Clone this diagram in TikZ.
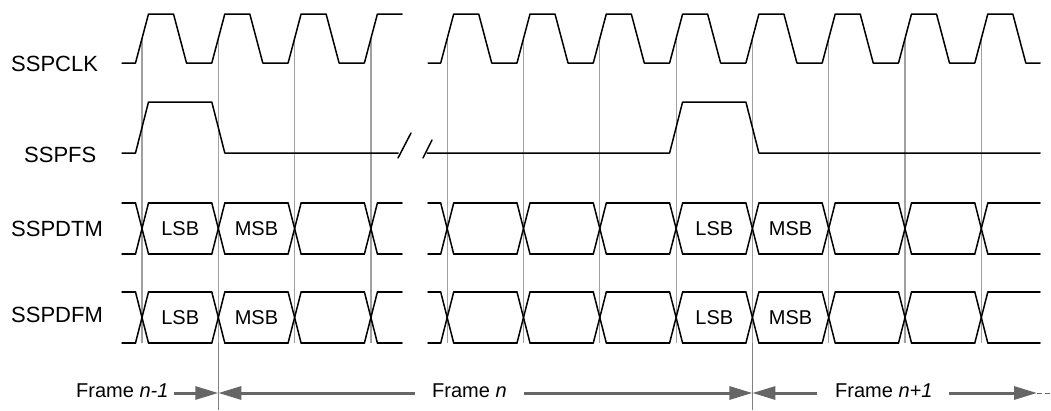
\documentclass[tikz,border=0pt]{standalone}
\usepackage{fontspec}
\setmainfont{Liberation Sans}
\usetikzlibrary{arrows.meta}
\definecolor{gridgray}{RGB}{160,160,160}
\definecolor{edgegray}{RGB}{128,128,128}
\definecolor{framegray}{RGB}{102,102,102}

\begin{document}
\begin{tikzpicture}[x=1pt,y=-1pt,
  wave/.style={black,line width=1.5pt,line cap=round,line join=round},
  grid/.style={gridgray,line width=1.2pt},
  siglabel/.style={anchor=west,inner sep=0pt,font=\fontsize{22}{26}\selectfont},
  bitlabel/.style={inner sep=0pt,font=\fontsize{20}{24}\selectfont},
  framelabel/.style={anchor=west,inner sep=0pt,font=\fontsize{20}{24}\selectfont},
  framearrow/.style={framegray,line width=3pt,-{Triangle[length=23pt,width=13pt]}}]
\useasboundingbox (0,0) rectangle (1051,410);

\foreach \k in {0,...,11}
  \draw[grid] ({142+76.3*\k},38.5) -- ({142+76.3*\k},343);
\draw[edgegray,line width=1.2pt] (218.3,343) -- (218.3,410);
\draw[edgegray,line width=1.2pt] (752.4,343) -- (752.4,410);

\node[siglabel] (clk) at (11,64) {SSPCLK};
\node[siglabel] (fs) at (24,155) {SSPFS};
\node[siglabel] (dtm) at (11,229) {SSPDTM};
\node[siglabel] (dfm) at (11,315) {SSPDFM};

\draw[wave] (122,63) \foreach \k in {0,1,2} {
  -- ({142+76.3*\k-6.5},63) -- ({142+76.3*\k+6.5},14)
  -- ({142+76.3*\k+31.5},14) -- ({142+76.3*\k+44.5},63)}
  -- (364.4,63) -- (377.4,14) -- (402,14);
\draw[wave] (428,63) \foreach \k in {4,...,11} {
  -- ({142+76.3*\k-6.5},63) -- ({142+76.3*\k+6.5},14)
  -- ({142+76.3*\k+31.5},14) -- ({142+76.3*\k+44.5},63)}
  -- (1040,63);

\draw[wave] (122,153) -- (135.5,153) -- (148.5,102) -- (211.8,102) -- (224.8,153) -- (398,153);
\draw[wave] (398,158) -- (411,133);
\draw[wave] (423,158) -- (432,140);
\draw[wave] (427,153) -- (669.6,153) -- (682.6,102) -- (745.9,102) -- (758.9,153) -- (1040,153);

\foreach \t/\b in {203/254,292/343} {
  \foreach \k in {0,...,11} {
    \draw[wave] ({142+76.3*\k-6.5},\t) -- ({142+76.3*\k+6.5},\b);
    \draw[wave] ({142+76.3*\k-6.5},\b) -- ({142+76.3*\k+6.5},\t);
  }
  \foreach \k in {0,1,2,4,5,...,10} {
    \draw[wave] ({142+76.3*\k+6.5},\t) -- ({142+76.3*\k+69.8},\t);
    \draw[wave] ({142+76.3*\k+6.5},\b) -- ({142+76.3*\k+69.8},\b);
  }
  \draw[wave] (122,\t) -- (135.5,\t) (122,\b) -- (135.5,\b);
  \draw[wave] (377.4,\t) -- (402,\t) (377.4,\b) -- (402,\b);
  \draw[wave] (428,\t) -- (440.7,\t) (428,\b) -- (440.7,\b);
  \draw[wave] (987.8,\t) -- (1040,\t) (987.8,\b) -- (1040,\b);
}

\node[bitlabel] (lsbA) at (180.2,229) {LSB};
\node[bitlabel] (msbA) at (256.5,229) {MSB};
\node[bitlabel] (lsbB) at (714.3,229) {LSB};
\node[bitlabel] (msbB) at (790.6,229) {MSB};
\node[bitlabel] (lsbC) at (180.2,318) {LSB};
\node[bitlabel] (msbC) at (256.5,318) {MSB};
\node[bitlabel] (lsbD) at (714.3,318) {LSB};
\node[bitlabel] (msbD) at (790.6,318) {MSB};

\coordinate (b1) at (218.3,393);
\coordinate (b8) at (752.4,393);
\coordinate (tail) at (1037,393);
\node[framelabel] (fprev) at (76,391) {Frame \textit{n-1}};
\node[framelabel] (fcur) at (432,391) {Frame \textit{n}};
\node[framelabel] (fnext) at (835,391) {Frame \textit{n+1}};
\draw[framearrow,shorten <=5pt] (fprev.east |- b1) -- (b1);
\draw[framearrow,shorten <=17pt] (fcur.west |- b1) -- (b1);
\draw[framearrow,shorten <=17pt] (fcur.east |- b8) -- (b8);
\draw[framearrow,shorten <=18pt] (fnext.west |- b8) -- (b8);
\draw[framearrow,shorten <=16pt] (fnext.east |- tail) -- (tail);
\draw[framegray,line width=1pt,dash pattern=on 5pt off 3pt] (tail) -- (1051,393);
\end{tikzpicture}
\end{document}
